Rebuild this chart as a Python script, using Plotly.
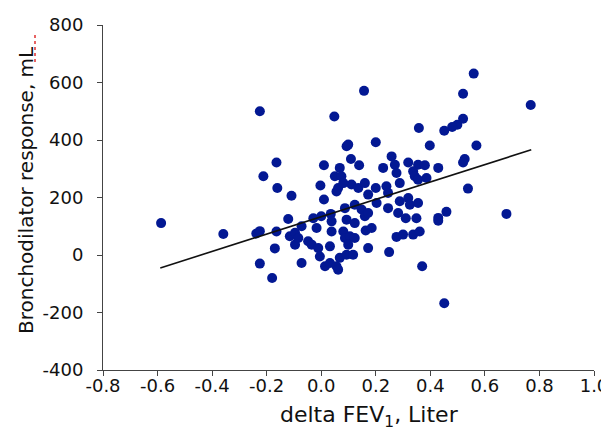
import plotly.graph_objects as go

# delta FEV1 (L) and bronchodilator response (mL)
delta_fev1 = [
    -0.587, -0.359, -0.238, -0.225, -0.225, -0.225, -0.212, -0.164, -0.161, -0.109,
    -0.121, -0.164, -0.170, -0.180, 0.048, 0.157, 0.093, 0.099, 0.200, 0.358,
    0.398, 0.559, 0.520, 0.768, 0.520, 0.499, 0.480, 0.451, 0.569, 0.429,
    0.526, 0.520, 0.538, 0.459, 0.429, 0.429, 0.679, 0.451, 0.370, 0.249,
    0.010, 0.109, 0.139, 0.068, 0.050, 0.074, -0.003, 0.062, 0.056, 0.111,
    0.136, 0.160, 0.172, 0.200, 0.010, -0.029, 0.000, 0.035, 0.038, 0.087,
    0.123, 0.148, 0.160, 0.172, 0.093, 0.123, 0.203, 0.258, 0.227, 0.270,
    0.276, 0.319, 0.355, 0.380, 0.337, 0.343, 0.355, 0.386, 0.288, 0.239,
    0.245, 0.245, 0.288, 0.319, 0.325, 0.355, 0.282, 0.310, 0.349, -0.072,
    -0.115, -0.096, -0.096, -0.084, -0.048, -0.035, -0.017, -0.011, -0.005, 0.032,
    0.038, 0.081, 0.087, 0.105, 0.123, 0.099, 0.068, 0.093, 0.117, 0.014,
    0.032, 0.056, 0.062, -0.072, 0.163, 0.185, 0.172, 0.276, 0.300, 0.337,
    0.361, 0.081,
]
bd_response = [
    111, 73, 75, 83, -30, 500, 274, 322, 233, 206,
    125, 82, 23, -80, 482, 571, 378, 384, 392, 442,
    381, 631, 561, 522, 474, 453, 445, 432, 381, 303,
    334, 322, 231, 150, 129, 119, 143, -168, -39, 10,
    312, 334, 312, 303, 274, 274, 242, 233, 221, 245,
    233, 250, 210, 233, 193, 128, 135, 143, 117, 163,
    175, 158, 135, 146, 123, 111, 181, 343, 303, 314,
    285, 322, 314, 312, 291, 274, 262, 268, 250, 239,
    216, 163, 187, 198, 175, 181, 146, 128, 128, 100,
    65, 77, 36, 59, 48, 36, 94, 24, -5, 30,
    82, 82, 59, 65, 59, 36, -10, 1, 1, -39,
    -28, -39, -51, -28, 85, 94, 24, 63, 71, 71,
    82, 250,
]

# fitted trend line endpoints
trend_x = [-0.59, 0.77]
trend_y = [-45, 366]

x_ticks = [-0.8, -0.6, -0.4, -0.2, 0.0, 0.2, 0.4, 0.6, 0.8, 1.0]
x_tick_labels = ["-0.8", "-0.6", "-0.4", "-0.2", "0.0", "0.2", "0.4", "0.6", "0.8", "1.0"]
y_ticks = [-400, -200, 0, 200, 400, 600, 800]
y_tick_labels = ["-400", "-200", "0", "200", "400", "600", "800"]

x_title = "delta FEV<sub>1</sub>, Liter"
y_title = "Bronchodilator response, mL"

FONT = "DejaVu Sans"
W, H = 609, 435
ML, MR, MT, MB = 95, 23, 17, 73
PW, PH = W - ML - MR, H - MT - MB


def px_x(p):
    return (p - ML) / PW


def px_y(p):
    return (H - MB - p) / PH


fig = go.Figure()
fig.add_trace(go.Scatter(
    x=delta_fev1, y=bd_response, mode="markers",
    marker=dict(size=10, color="#031893", line=dict(width=0)),
    showlegend=False, hoverinfo="skip",
))
fig.add_trace(go.Scatter(
    x=trend_x, y=trend_y, mode="lines",
    line=dict(color="#111111", width=1.6),
    showlegend=False, hoverinfo="skip",
))

axis_common = dict(
    showgrid=False, zeroline=False, showline=True, linecolor="#444444", linewidth=1,
    ticks="outside", ticklen=5, tickcolor="#444444", tickwidth=1, automargin=False,
    tickfont=dict(family=FONT, size=18, color="#111111"),
)

fig.update_layout(
    width=W, height=H,
    margin=dict(l=ML, r=MR, t=MT, b=MB, autoexpand=False),
    paper_bgcolor="white", plot_bgcolor="white",
    xaxis=dict(
        range=[-0.8, 1.0], tickvals=x_ticks, ticktext=x_tick_labels,
        ticklabelstandoff=-6,
        **axis_common,
    ),
    yaxis=dict(
        range=[-400, 800], tickvals=y_ticks, ticktext=y_tick_labels,
        ticklabelstandoff=10,
        **axis_common,
    ),
    annotations=[
        dict(text=x_title, xref="paper", yref="paper", x=px_x(361), y=px_y(408),
             xanchor="center", yanchor="middle", showarrow=False,
             font=dict(family=FONT, size=22, color="#111111")),
        dict(text=y_title, xref="paper", yref="paper", x=px_x(18), y=px_y(182),
             xanchor="center", yanchor="middle", showarrow=False, textangle=-90,
             font=dict(family=FONT, size=20, color="#111111")),
    ],
    shapes=[
        dict(type="line", xref="paper", yref="paper",
             x0=px_x(27), x1=px_x(27), y0=px_y(27), y1=px_y(56),
             line=dict(color="#e03030", width=1.5, dash="dot")),
    ],
)

fig.write_html("out.html")
